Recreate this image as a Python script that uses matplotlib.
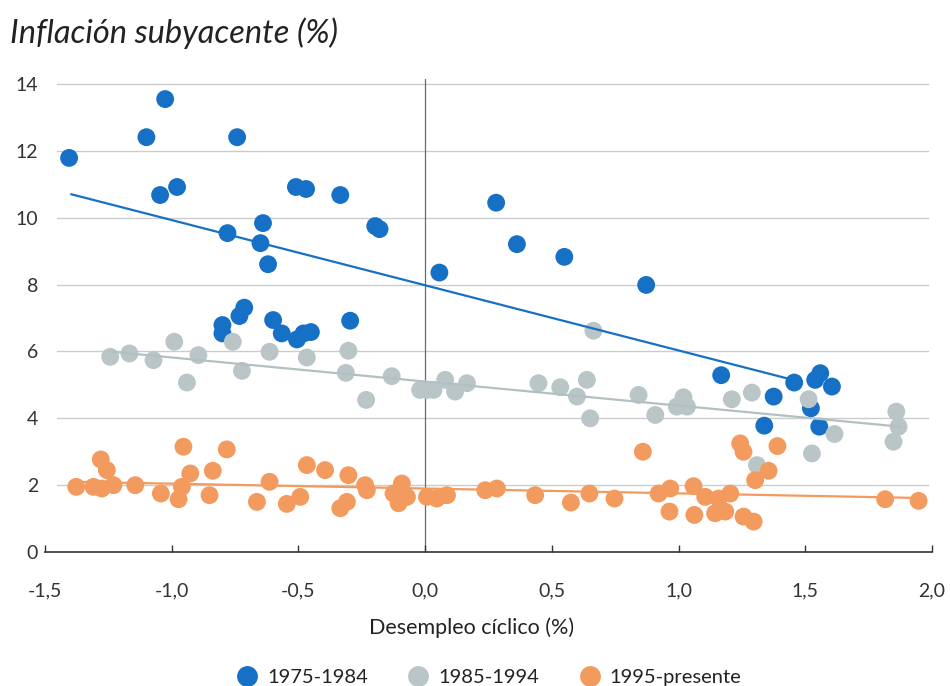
import matplotlib
matplotlib.use("Agg")
import matplotlib.pyplot as plt
import numpy as np
from matplotlib.lines import Line2D

plt.rcParams['font.family'] = ['Lato', 'DejaVu Sans']

# ---- data ----
series_names = ["1975-1984", "1985-1994", "1995-presente"]

blue_x = [-1.405, -1.10, -1.026, -1.046, -0.979, -0.742, -0.78, -0.64, -0.65, -0.62,
          -0.51, -0.47, -0.335, -0.197, -0.18, -0.80, -0.80, -0.733, -0.714, -0.60,
          -0.566, -0.506, -0.48, -0.451, -0.296, 0.056, 0.28, 0.362, 0.549, 0.872,
          1.168, 1.456, 1.559, 1.539, 1.605, 1.375, 1.522, 1.338, 1.555]
blue_y = [11.79, 12.41, 13.55, 10.68, 10.92, 12.41, 9.54, 9.84, 9.24, 8.61,
          10.92, 10.86, 10.68, 9.75, 9.66, 6.79, 6.54, 7.06, 7.31, 6.94,
          6.54, 6.36, 6.54, 6.58, 6.92, 8.36, 10.45, 9.21, 8.83, 7.99,
          5.29, 5.07, 5.35, 5.15, 4.95, 4.65, 4.30, 3.78, 3.75]

gray_x = [-1.243, -1.167, -1.072, -0.99, -0.895, -0.94, -0.759, -0.723, -0.614, -0.467,
          -0.303, -0.313, -0.233, -0.132, -0.02, 0.007, 0.033, 0.079, 0.118, 0.165,
          0.447, 0.533, 0.599, 0.638, 0.651, 0.664, 0.842, 0.908, 0.993, 1.019,
          1.033, 1.21, 1.289, 1.513, 1.615, 1.526, 1.859, 1.868, 1.848, 1.309]
gray_y = [5.84, 5.94, 5.74, 6.29, 5.89, 5.07, 6.29, 5.42, 5.99, 5.82,
          6.02, 5.36, 4.55, 5.26, 4.85, 4.85, 4.85, 5.15, 4.80, 5.05,
          5.05, 4.93, 4.65, 5.15, 4.00, 6.62, 4.70, 4.10, 4.35, 4.63,
          4.35, 4.57, 4.77, 4.57, 3.53, 2.95, 4.20, 3.75, 3.30, 2.60]

orange_x = [-1.377, -1.28, -1.256, -1.309, -1.276, -1.23, -1.144, -1.043, -0.973, -0.954,
            -0.927, -0.96, -0.851, -0.838, -0.783, -0.664, -0.614, -0.546, -0.493, -0.467,
            -0.395, -0.303, -0.237, -0.23, -0.335, -0.309, -0.125, -0.092, -0.105, -0.072,
            0.007, 0.046, 0.086, 0.237, 0.283, 0.434, 0.575, 0.648, 0.747, 0.859,
            0.921, 0.967, 0.964, 1.059, 1.105, 1.062, 1.144, 1.184, 1.158, 1.204,
            1.243, 1.256, 1.256, 1.296, 1.302, 1.355, 1.39, 1.815, 1.947]
orange_y = [1.95, 2.77, 2.45, 1.95, 1.90, 2.00, 2.00, 1.75, 1.58, 3.15,
            2.35, 1.95, 1.70, 2.43, 3.07, 1.50, 2.10, 1.44, 1.65, 2.60,
            2.45, 2.30, 2.00, 1.85, 1.31, 1.50, 1.75, 2.05, 1.46, 1.65,
            1.65, 1.60, 1.70, 1.85, 1.90, 1.70, 1.48, 1.75, 1.60, 3.00,
            1.75, 1.90, 1.21, 1.97, 1.65, 1.11, 1.16, 1.21, 1.60, 1.75,
            3.25, 3.00, 1.06, 0.91, 2.15, 2.43, 3.17, 1.58, 1.53]

# trend lines: intercept, slope, x-start, x-end
trend_intercept = [7.98, 5.10, 1.90]
trend_slope = [-1.95, -0.72, -0.145]
trend_xstart = [-1.40, -1.25, -1.38]
trend_xend = [1.45, 1.88, 1.96]

x_ticks = [-1.5, -1.0, -0.5, 0.0, 0.5, 1.0, 1.5, 2.0]
x_ticklabels = ["-1,5", "-1,0", "-0,5", "0,0", "0,5", "1,0", "1,5", "2,0"]
y_ticks = [0, 2, 4, 6, 8, 10, 12, 14]

colors = ["#1670c6", "#b9c5c7", "#f39a5e"]
line_colors = ["#1670c6", "#b3c0c2", "#f39a5e"]

# ---- figure ----
fig = plt.figure(figsize=(9.5, 6.86), dpi=100)
ax = fig.add_axes([0.0474, 0.1953, 0.9337, 0.6895])
ax.set_xlim(-1.5, 2.0)
ax.set_ylim(0, 14.15)

for y in y_ticks[1:]:
    ax.axhline(y, xmin=0.013, xmax=0.995, color="#cccccc", lw=1.0, zorder=1)
ax.axvline(0, color="#6a6a6a", lw=0.9, zorder=1.5)

xs = [blue_x, gray_x, orange_x]
ys = [blue_y, gray_y, orange_y]
for i in range(3):
    ax.scatter(xs[i], ys[i], s=165, color=colors[i], edgecolors='none', zorder=2 + i)

for i in range(3):
    lx = np.array([trend_xstart[i], trend_xend[i]])
    ax.plot(lx, trend_intercept[i] + trend_slope[i] * lx, color=line_colors[i], lw=1.6,
            zorder=6, solid_capstyle='butt')

for s in ["top", "right", "left"]:
    ax.spines[s].set_visible(False)
ax.spines["bottom"].set_color("#333333")
ax.spines["bottom"].set_linewidth(1.2)

ax.set_xticks(x_ticks)
ax.set_xticklabels(x_ticklabels)
ax.set_yticks(y_ticks)
ax.tick_params(axis='x', direction='in', length=5, width=1.0, color="#333333",
               labelsize=14, pad=22, labelcolor="#333333")
ax.tick_params(axis='y', length=0, labelsize=14, pad=5, labelcolor="#333333")

ax.set_xlabel("Desempleo cíclico (%)", fontsize=15.5, color="#222222", labelpad=13)
ax.xaxis.label.set_x(0.481)

fig.text(0.011, 0.951, "Inflación subyacente (%)", fontsize=23.5, style='italic',
         color="#222222", ha='left', va='center')

handles = [Line2D([], [], ls='none', marker='o', markersize=15, color=c, markeredgewidth=0)
           for c in colors]
fig.legend(handles, series_names, loc='center', bbox_to_anchor=(0.515, 0.013), ncol=3,
           frameon=False, fontsize=14.5, handlelength=1.0, handletextpad=0.5,
           columnspacing=2.0, labelcolor="#222222", borderpad=0)

fig.savefig("out.png", dpi=100)
